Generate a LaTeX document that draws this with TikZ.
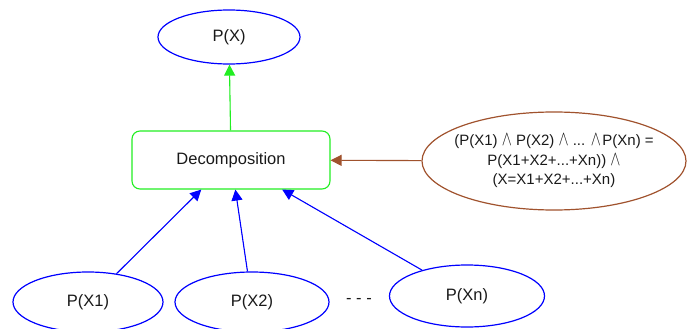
\documentclass[tikz,border=0pt]{standalone}
\usepackage{fontspec}
\usepackage{graphicx}
\setmainfont{Liberation Sans}
\usetikzlibrary{shapes.geometric,arrows.meta}
\definecolor{gvgreen}{HTML}{22EE22}
\definecolor{gvbrown}{HTML}{A0522D}
\newcommand{\wdg}{\scalebox{1.05}[1.45]{$\wedge$}}
\begin{document}
\begin{tikzpicture}[x=1pt,y=-1pt,
  every node/.style={font=\fontsize{16.5}{19}\selectfont, text=black!90},
  blueell/.style={ellipse, draw=blue, line width=1.2pt, inner sep=0pt},
  conn/.style={line width=1.1pt, -{Triangle[length=11pt,width=11pt]}}]
\useasboundingbox (0,0) rectangle (693,329);
\node[blueell, minimum width=142pt, minimum height=54pt] (px) at (229,37) {P(X)};
\node[draw=gvgreen, line width=1.1pt, rounded corners=8pt, minimum width=198pt, minimum height=58pt] (dec) at (231,160) {Decomposition};
\node[ellipse, draw=gvbrown, line width=1.2pt, inner xsep=-12pt, inner ysep=0pt, minimum width=264pt, minimum height=98pt, align=center, font=\fontsize{15}{19.5}\selectfont] (cond) at (554,161)
  {(P(X1) \wdg\ P(X2) \wdg\ ... \wdg\kern1.5pt P(Xn) =\\ P(X1+X2+...+Xn)) \wdg\\ (X=X1+X2+...+Xn)};
\node[blueell, minimum width=150pt, minimum height=60pt] (x1) at (88,302) {P(X1)};
\node[blueell, minimum width=154pt, minimum height=60pt] (x2) at (252,302) {P(X2)};
\node[blueell, minimum width=155pt, minimum height=62pt] (xn) at (467,296) {P(Xn)};
\node (dots) at (359,301) {- - -};
\draw[conn, draw=gvgreen, fill=gvgreen] (dec) -- (px);
\draw[conn, draw=gvbrown, fill=gvbrown] (cond) -- (dec);
\draw[conn, draw=blue, fill=blue] (x1) -- (dec);
\draw[conn, draw=blue, fill=blue] (x2) -- (dec);
\draw[conn, draw=blue, fill=blue] (xn) -- (dec);
\end{tikzpicture}
\end{document}
